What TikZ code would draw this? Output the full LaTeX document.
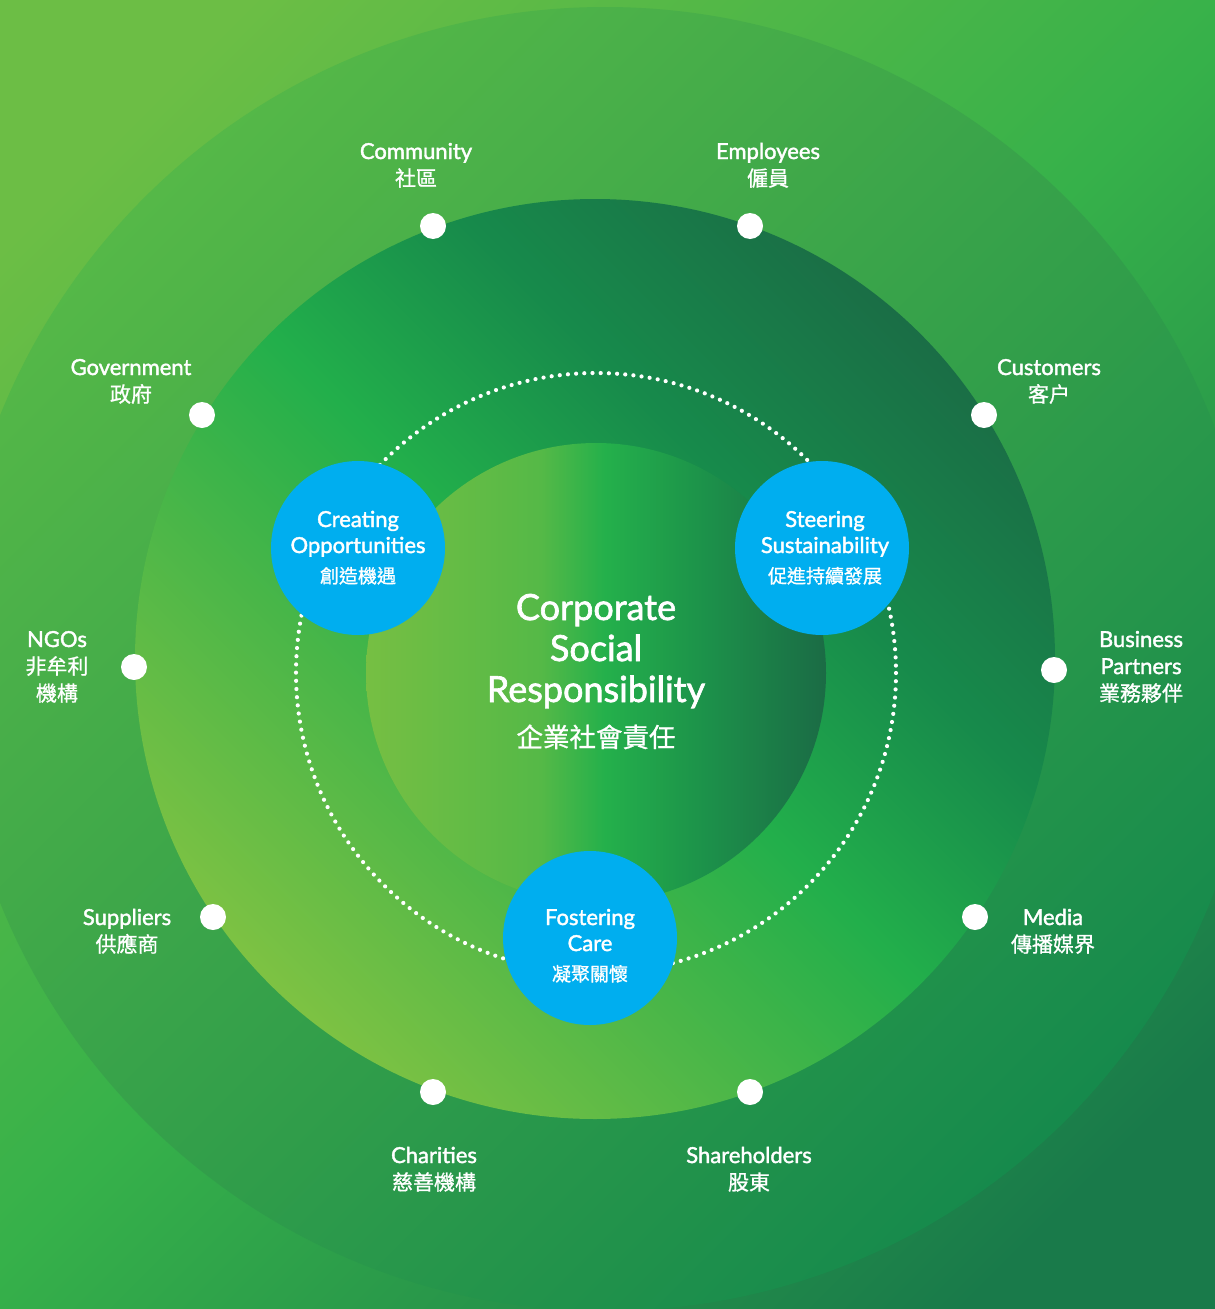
\documentclass[tikz,border=0pt]{standalone}
\usepackage{fontspec}
\setmainfont{Lato}[FakeBold=1.8]
\newfontfamily\cjk{Noto Sans CJK TC}[FakeBold=1.0]
\definecolor{bgA}{HTML}{6CBE45}
\definecolor{bgB}{HTML}{36B14A}
\definecolor{bgC}{HTML}{197A4A}
\definecolor{ocA}{HTML}{55B848}
\definecolor{ocB}{HTML}{30A849}
\definecolor{ocC}{HTML}{168A4C}
\definecolor{rgA}{HTML}{7DC243}
\definecolor{rgB}{HTML}{4EB748}
\definecolor{rgC}{HTML}{22AF4B}
\definecolor{rgD}{HTML}{178A4B}
\definecolor{rgE}{HTML}{1A6E46}
\definecolor{inA}{HTML}{76BF43}
\definecolor{inB}{HTML}{55B947}
\definecolor{inC}{HTML}{24B04B}
\definecolor{inD}{HTML}{1C914A}
\definecolor{inE}{HTML}{1B6B45}
\definecolor{csrblue}{HTML}{00AEEF}
\pgfdeclarehorizontalshading{innershade}{100bp}{color(0bp)=(inA); color(25bp)=(inA); color(44bp)=(inB); color(51bp)=(inC); color(62bp)=(inD); color(75bp)=(inE); color(100bp)=(inE)}
\pgfdeclareverticalshading{ringshade}{100bp}{color(0bp)=(rgA); color(25bp)=(rgA); color(38bp)=(rgB); color(50bp)=(rgC); color(62bp)=(rgD); color(75bp)=(rgE); color(100bp)=(rgE)}
\pgfdeclareverticalshading{bgshade}{100bp}{color(0bp)=(bgC); color(30bp)=(bgC); color(50bp)=(bgB); color(70bp)=(bgA); color(100bp)=(bgA)}
\newcommand{\cjkl}[1]{{\cjk\fontsize{21}{27}\selectfont #1}}
\newcommand{\twol}[2]{\begin{tabular}[t]{@{}c@{}}#1\\\cjkl{#2}\end{tabular}}
\newcommand{\bluel}[3]{\begin{tabular}[t]{@{}c@{}}#1\\#2\\[4pt]{\cjk\fontsize{19}{26}\selectfont #3}\end{tabular}}
\begin{document}
\begin{tikzpicture}[x=1pt,y=-1pt,
  whitedot/.style={circle,fill=white,inner sep=0pt,minimum size=26pt},
  lab/.style={anchor=base,inner sep=0pt,text=white,font=\fontsize{22}{27}\selectfont},
  bluelab/.style={anchor=base,inner sep=0pt,text=white,font=\fontsize{22}{26}\selectfont},
  bluecirc/.style={circle,fill=csrblue,inner sep=0pt,minimum size=174pt}]
\useasboundingbox (0,0) rectangle (1215,1309);
% background and circles
\begin{scope}
  \clip (0,0) rectangle (1215,1309);
  \shade[shading=bgshade, shading angle=45] (607,654) circle (900);
\end{scope}
\shade[top color=ocA, middle color=ocB, bottom color=ocC, shading angle=45] (605,659) circle (652);
\shade[shading=ringshade, shading angle=-45] (595,659) circle (460);
\shade[shading=innershade] (596,673) circle (230);
% dotted circle
\draw[white, line width=4.2pt, line cap=round, dash pattern=on 0pt off 8.2pt] (596,673) circle (300);
% blue circles
\node[bluecirc] (creating) at (358,548) {};
\node[bluecirc] (steering) at (822,548) {};
\node[bluecirc] (fostering) at (590,938) {};
\node[bluelab] (creatingtxt) at (358,527) {\bluel{Creating}{Opportunities}{創造機遇}};
\node[bluelab] (steeringtxt) at (825,527) {\bluel{Steering}{Sustainability}{促進持續發展}};
\node[bluelab] (fosteringtxt) at (590,925) {\bluel{Fostering}{Care}{凝聚關懷}};
% title
\node[anchor=base,inner sep=0pt,text=white,font=\fontsize{36}{41}\selectfont] (title) at (596,620)
  {\begin{tabular}[t]{@{}c@{}}Corporate\\Social\\Responsibility\\[4pt]{\cjk\fontsize{26.5}{41}\selectfont 企業社會責任}\end{tabular}};
% stakeholder dots
\node[whitedot] (dcom) at (433,226) {};
\node[whitedot] (demp) at (750,226) {};
\node[whitedot] (dgov) at (202,415) {};
\node[whitedot] (dcus) at (984,415) {};
\node[whitedot] (dngo) at (134,667) {};
\node[whitedot] (dbus) at (1054,670) {};
\node[whitedot] (dsup) at (213,917) {};
\node[whitedot] (dmed) at (975,917) {};
\node[whitedot] (dcha) at (433,1092) {};
\node[whitedot] (dsha) at (750,1092) {};
% stakeholder labels
\node[lab] (lcom) at (416,159) {\twol{Community}{社區}};
\node[lab] (lemp) at (768,159) {\twol{Employees}{僱員}};
\node[lab] (lgov) at (131,375) {\twol{Government}{政府}};
\node[lab] (lcus) at (1049,375) {\twol{Customers}{客户}};
\node[lab] (lngo) at (57,647) {\begin{tabular}[t]{@{}c@{}}NGOs\\\cjkl{非牟利}\\\cjkl{機構}\end{tabular}};
\node[lab] (lbus) at (1141,647) {\begin{tabular}[t]{@{}c@{}}Business\\Partners\\\cjkl{業務夥伴}\end{tabular}};
\node[lab] (lsup) at (127,925) {\twol{Suppliers}{供應商}};
\node[lab] (lmed) at (1053,925) {\twol{Media}{傳播媒界}};
\node[lab] (lcha) at (434,1163) {\twol{Charities}{慈善機構}};
\node[lab] (lsha) at (749,1163) {\twol{Shareholders}{股東}};
\end{tikzpicture}
\end{document}
